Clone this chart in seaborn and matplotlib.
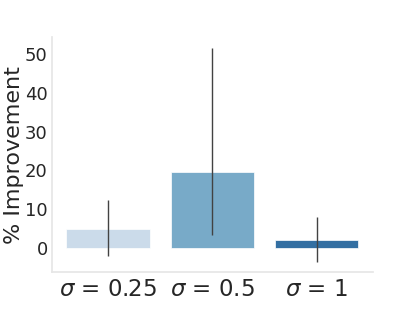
import numpy as np
import pandas as pd
import seaborn as sns
import matplotlib.pyplot as plt

labels = [r"$\sigma$ = 0.25", r"$\sigma$ = 0.5", r"$\sigma$ = 1"]
improvement = [4.9, 19.6, 2.1]
ci_low = [-2.0, 3.4, -3.6]
ci_high = [12.4, 51.5, 8.0]

df = pd.DataFrame({"sigma": labels, "improvement": improvement})

sns.set_style("whitegrid")
fig = plt.figure(figsize=(4.15, 3.12), dpi=100)
ax = fig.add_axes([0.125, 0.128, 0.774, 0.753])

sns.barplot(data=df, x="sigma", y="improvement", hue="sigma",
            palette="Blues", legend=False, errorbar=None, ax=ax,
            edgecolor="white", linewidth=0.5)

# confidence intervals
x = np.arange(len(labels))
ax.vlines(x, ci_low, ci_high, color="#424242", linewidth=1.0, zorder=3)

ax.grid(False)
sns.despine(ax=ax)
for s in ("left", "bottom"):
    ax.spines[s].set_color("0.9")
    ax.spines[s].set_linewidth(1.25)
ax.set_ylim(-6.2, 54.4)
ax.set_yticks([0, 10, 20, 30, 40, 50])
ax.tick_params(axis="y", labelsize=13, length=0, colors="#262626", pad=3)
ax.tick_params(axis="x", labelsize=16.5, length=0, colors="#262626", pad=4)
ax.set_xlabel("")
ax.set_ylabel("% Improvement", fontsize=16, color="#262626")
ax.yaxis.set_label_coords(-0.088, 0.5)

fig.savefig("out.png", dpi=100)
